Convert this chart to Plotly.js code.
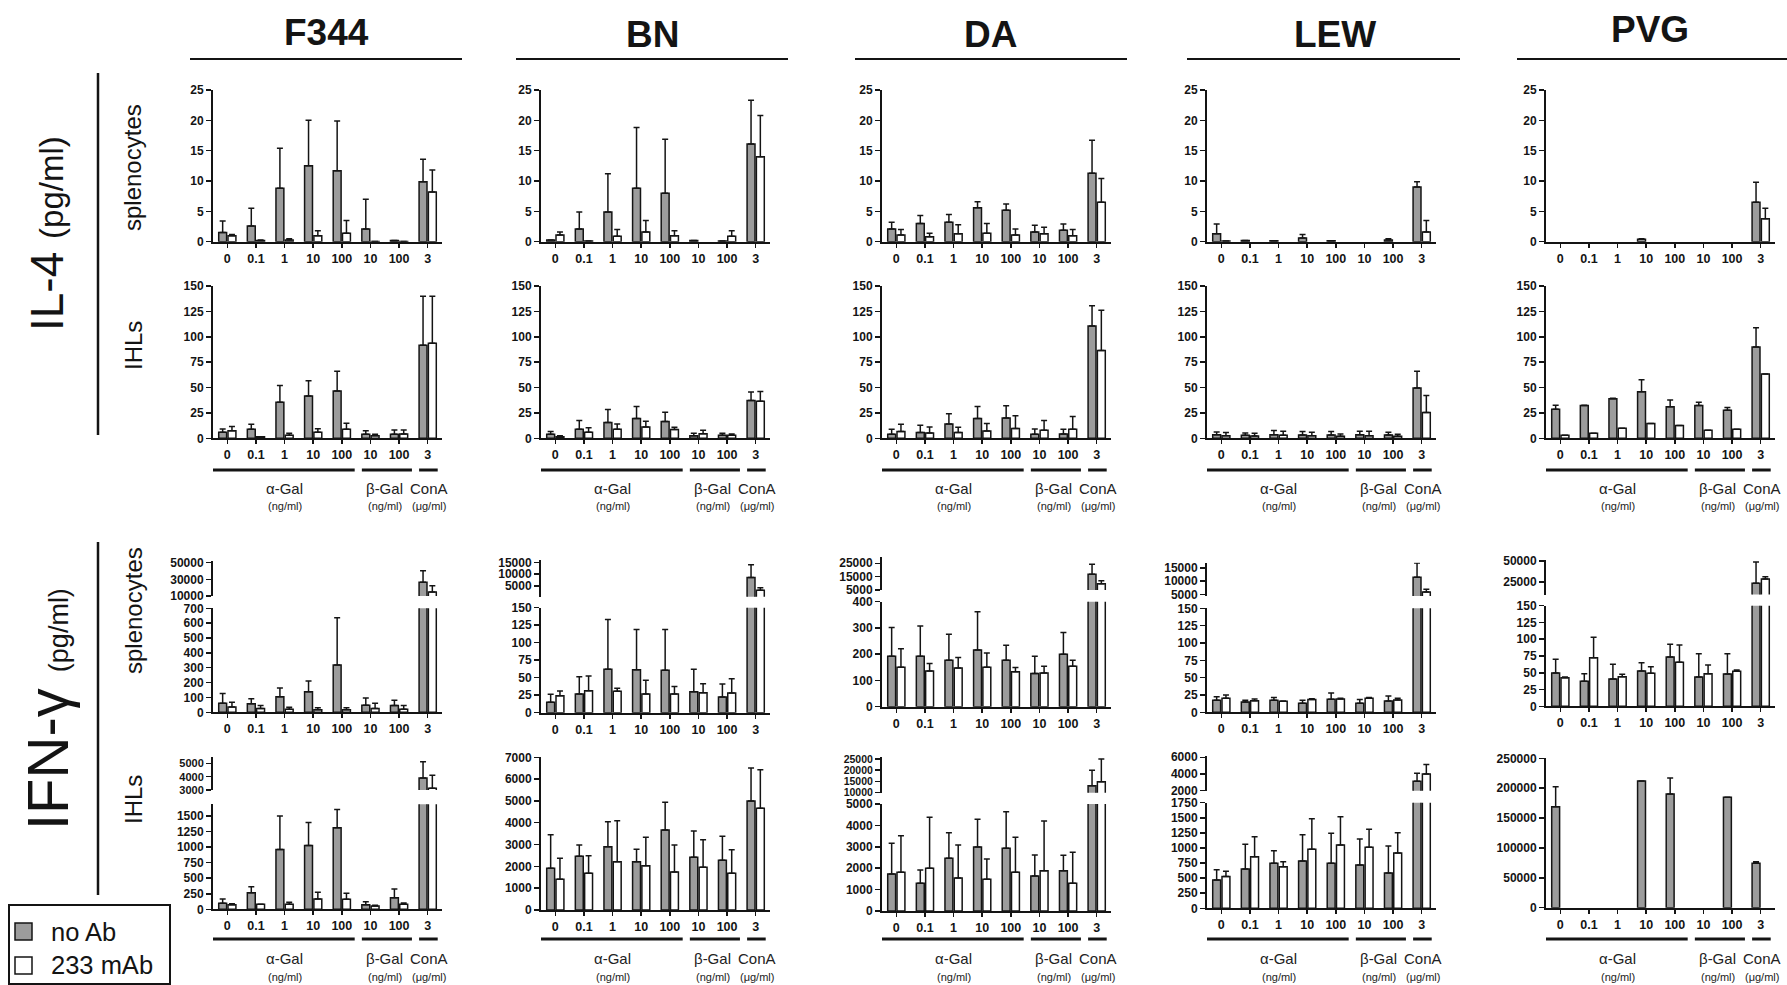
<!DOCTYPE html>
<html><head><meta charset="utf-8">
<script src="https://cdn.plot.ly/plotly-3.0.1.min.js"></script>
<style>html,body{margin:0;padding:0;background:#fff;}#chart{width:1787px;height:985px;}</style>
</head><body><div id="chart"></div>
<script>
// ---------------- DATA ----------------
const categories = ['a0','a0.1','a1','a10','a100','b10','b100','c3'];
const tickLabels = ['0','0.1','1','10','100','10','100','3'];
const strains = ['F344','BN','DA','LEW','PVG'];
const seriesNames = ['no Ab','233 mAb'];
const groupLabels = ['α-Gal','β-Gal','ConA'];
const groupUnits = ['(ng/ml)','(ng/ml)','(μg/ml)'];

// IL-4 splenocytes
const F344_IL4_spl_noAb = [1.5, 2.6, 8.8, 12.5, 11.7, 2.1, 0.2, 9.9];
const F344_IL4_spl_noAb_sd = [1.9, 2.9, 6.6, 7.5, 8.2, 4.9, 0, 3.7];
const F344_IL4_spl_mAb = [1.0, 0.2, 0.3, 1.0, 1.4, 0.05, 0.05, 8.2];
const F344_IL4_spl_mAb_sd = [0.2, 0.1, 0.2, 0.8, 2.1, 0, 0, 3.6];
const BN_IL4_spl_noAb = [0.3, 2.1, 4.9, 8.8, 8.0, 0.2, 0.1, 16.1];
const BN_IL4_spl_noAb_sd = [0, 2.8, 6.3, 10.0, 8.9, 0, 0, 7.2];
const BN_IL4_spl_mAb = [1.1, 0.1, 0.9, 1.6, 1.0, 0, 0.9, 14.0];
const BN_IL4_spl_mAb_sd = [0.5, 0, 1.1, 1.9, 0.8, 0, 0.9, 6.8];
const DA_IL4_spl_noAb = [2.1, 3.0, 3.2, 5.6, 5.2, 1.6, 1.9, 11.3];
const DA_IL4_spl_noAb_sd = [1.1, 1.3, 1.3, 1.0, 1.0, 1.1, 1.0, 5.4];
const DA_IL4_spl_mAb = [1.1, 0.8, 1.3, 1.4, 1.1, 1.3, 1.0, 6.5];
const DA_IL4_spl_mAb_sd = [0.9, 0.6, 1.5, 1.6, 1.0, 1.1, 1.0, 3.9];
const LEW_IL4_spl_noAb = [1.3, 0.2, 0.15, 0.6, 0.15, 0, 0.3, 9.0];
const LEW_IL4_spl_noAb_sd = [1.6, 0, 0, 0.6, 0, 0, 0.2, 0.9];
const LEW_IL4_spl_mAb = [0.1, 0, 0, 0, 0, 0, 0, 1.6];
const LEW_IL4_spl_mAb_sd = [0, 0, 0, 0, 0, 0, 0, 1.9];
const PVG_IL4_spl_noAb = [0, 0, 0, 0.4, 0, 0, 0, 6.5];
const PVG_IL4_spl_noAb_sd = [0, 0, 0, 0.1, 0, 0, 0, 3.3];
const PVG_IL4_spl_mAb = [0, 0, 0, 0, 0, 0, 0, 3.8];
const PVG_IL4_spl_mAb_sd = [0, 0, 0, 0, 0, 0, 0, 1.7];

// IL-4 IHLs
const F344_IL4_ihl_noAb = [5.9, 8.9, 35.4, 41.7, 46.6, 3.9, 3.9, 91.6];
const F344_IL4_ihl_noAb_sd = [3.3, 4.9, 16.6, 15.1, 19.4, 3.6, 4.3, 48.4];
const F344_IL4_ihl_mAb = [7.5, 1.6, 3.0, 5.9, 8.9, 2.6, 4.3, 93.6];
const F344_IL4_ihl_mAb_sd = [4.0, 0, 1.9, 3.6, 5.9, 1.3, 3.9, 46.4];
const BN_IL4_ihl_noAb = [4.0, 8.9, 15.5, 19.5, 16.5, 2.6, 3.0, 37.3];
const BN_IL4_ihl_noAb_sd = [2.6, 8.6, 12.9, 11.8, 9.2, 2.3, 1.9, 8.2];
const BN_IL4_ihl_mAb = [1.6, 5.9, 8.9, 11.2, 8.6, 4.6, 3.0, 36.6];
const BN_IL4_ihl_mAb_sd = [1.0, 4.6, 5.3, 5.6, 2.3, 3.3, 1.3, 9.6];
const DA_IL4_ihl_noAb = [4.0, 5.6, 14.2, 19.5, 20.1, 4.0, 4.3, 110.5];
const DA_IL4_ihl_noAb_sd = [4.9, 7.3, 9.9, 11.8, 11.9, 5.2, 4.6, 20.1];
const DA_IL4_ihl_mAb = [6.6, 5.3, 5.6, 7.3, 9.6, 7.9, 8.9, 86.4];
const DA_IL4_ihl_mAb_sd = [7.2, 5.9, 5.3, 7.2, 12.5, 9.6, 12.5, 39.6];
const LEW_IL4_ihl_noAb = [3.6, 3.0, 3.6, 3.3, 3.3, 3.6, 3.3, 49.5];
const LEW_IL4_ihl_noAb_sd = [2.7, 2.3, 4.0, 3.3, 3.3, 3.3, 2.6, 16.5];
const LEW_IL4_ihl_mAb = [2.6, 2.3, 3.0, 2.6, 2.0, 2.6, 2.0, 25.4];
const LEW_IL4_ihl_mAb_sd = [3.0, 2.6, 3.9, 3.3, 2.3, 4.3, 2.0, 16.8];
const PVG_IL4_ihl_noAb = [28.7, 32.3, 38.9, 45.8, 31.0, 32.3, 27.7, 90.0];
const PVG_IL4_ihl_noAb_sd = [3.9, 0.2, 0.6, 11.9, 6.6, 3.3, 2.6, 18.8];
const PVG_IL4_ihl_mAb = [3.0, 4.9, 9.9, 14.5, 12.5, 7.9, 8.9, 63.3];
const PVG_IL4_ihl_mAb_sd = [0, 0, 0, 0, 0, 0, 0, 0];

// IFN-γ splenocytes
const F344_IFN_spl_noAb = [61, 58, 105, 139, 319, 47, 45, 26400];
const F344_IFN_spl_noAb_sd = [65, 34, 59, 72, 318, 49, 36, 14000];
const F344_IFN_spl_mAb = [36, 25, 20, 18, 18, 25, 20, 14800];
const F344_IFN_spl_mAb_sd = [31, 20, 14, 13, 13, 36, 25, 7600];
const BN_IFN_spl_noAb = [14.8, 26.7, 61.9, 61.4, 60.5, 30, 22.4, 8600];
const BN_IFN_spl_noAb_sd = [11.4, 24.7, 71.1, 57.6, 58.5, 31.9, 18.6, 5400];
const BN_IFN_spl_mAb = [24.3, 31.4, 30.5, 26.7, 26.7, 28.6, 28.1, 3200];
const BN_IFN_spl_mAb_sd = [6.7, 21, 4.3, 19.5, 10.9, 12.8, 20.5, 1100];
const DA_IFN_spl_noAb = [192, 192, 177, 216, 177, 126, 200, 16750];
const DA_IFN_spl_noAb_sd = [110, 115, 99, 146, 57, 66, 83, 7500];
const DA_IFN_spl_mAb = [150, 136, 147, 150, 133, 128, 154, 9750];
const DA_IFN_spl_mAb_sd = [71, 29, 40, 55, 16, 26, 23, 2250];
const LEW_IFN_spl_noAb = [17.3, 14.9, 17.3, 13, 18.8, 13, 16.3, 11400];
const LEW_IFN_spl_noAb_sd = [5.3, 2.4, 3.9, 4.3, 9.1, 5.3, 7.3, 5350];
const LEW_IFN_spl_mAb = [20.2, 16.8, 15.9, 18.3, 19.2, 20.2, 17.8, 5900];
const LEW_IFN_spl_mAb_sd = [4.8, 2.4, 0.4, 1.4, 1.0, 1.0, 2.4, 1000];
const PVG_IFN_spl_noAb = [49.7, 37.3, 40.7, 52.7, 73.5, 43.7, 48.2, 23400];
const PVG_IFN_spl_noAb_sd = [20.3, 11.4, 21.9, 12.3, 18.9, 34.8, 30.3, 25400];
const PVG_IFN_spl_mAb = [42.7, 72.5, 44.2, 49.2, 65.6, 48.7, 52.2, 28600];
const PVG_IFN_spl_mAb_sd = [1.0, 30.3, 3.5, 9.9, 25.8, 12.9, 1.9, 2700];

// IFN-γ IHLs
const F344_IFN_ihl_noAb = [96, 268, 964, 1028, 1312, 75, 187, 3900];
const F344_IFN_ihl_noAb_sd = [70, 96, 536, 370, 295, 48, 140, 1225];
const F344_IFN_ihl_mAb = [75, 80, 80, 166, 161, 54, 80, 3125];
const F344_IFN_ihl_mAb_sd = [16, 0, 32, 107, 96, 10, 22, 975];
const BN_IFN_ihl_noAb = [1910, 2461, 2904, 2216, 3668, 2415, 2277, 4998];
const BN_IFN_ihl_noAb_sd = [1544, 519, 1146, 566, 1269, 1207, 1101, 1513];
const BN_IFN_ihl_mAb = [1406, 1681, 2216, 2033, 1742, 1956, 1681, 4661];
const BN_IFN_ihl_mAb_sd = [963, 810, 1880, 1299, 1238, 1269, 1085, 1773];
const DA_IFN_ihl_noAb = [1729, 1293, 2461, 2991, 2928, 1636, 1885, 13100];
const DA_IFN_ihl_noAb_sd = [1433, 623, 1199, 1292, 1714, 981, 716, 6900];
const DA_IFN_ihl_mAb = [1807, 1994, 1542, 1480, 1807, 1885, 1293, 14900];
const DA_IFN_ihl_mAb_sd = [1713, 2383, 1542, 950, 1635, 2321, 1448, 10100];
const LEW_IFN_ihl_noAb = [469, 652, 746, 784, 746, 718, 585, 3120];
const LEW_IFN_ihl_noAb_sd = [171, 408, 209, 436, 496, 430, 448, 960];
const LEW_IFN_ihl_mAb = [525, 856, 690, 977, 1049, 1010, 916, 4000];
const LEW_IFN_ihl_mAb_sd = [88, 331, 83, 508, 469, 298, 337, 1120];
const PVG_IFN_ihl_noAb = [169000, 0, 0, 212000, 190300, 0, 184700, 74200];
const PVG_IFN_ihl_noAb_sd = [33600, 0, 0, 0, 26700, 0, 0, 2800];
const PVG_IFN_ihl_mAb = [0, 0, 0, 0, 0, 0, 0, 0];
const PVG_IFN_ihl_mAb_sd = [0, 0, 0, 0, 0, 0, 0, 0];

// y-axis tick values
const ticksIL4spl = [0, 5, 10, 15, 20, 25];
const ticksIL4ihl = [0, 25, 50, 75, 100, 125, 150];
const ticks25to150 = [0, 25, 50, 75, 100, 125, 150];

// ---------------- GEOMETRY / STYLE ----------------
const W = 1787, H = 985;
const px = x => x / W, py = y => 1 - y / H;
const colX = [213, 541, 882, 1207, 1546];
const panelW = 229;
const GRAY = '#9c9c9c', INK = '#141414';
const FONT = 'Liberation Sans, Arial, sans-serif';

const panelsDef = [];
strains.forEach((s, c) => {
  panelsDef.push({col: c, row: 'IL4spl', d: [eval(s+'_IL4_spl_noAb'), eval(s+'_IL4_spl_noAb_sd'), eval(s+'_IL4_spl_mAb'), eval(s+'_IL4_spl_mAb_sd')],
    segs: [{top: 90, bot: 241.7, range: [0, 25], ticks: ticksIL4spl}]});
  panelsDef.push({col: c, row: 'IL4ihl', d: [eval(s+'_IL4_ihl_noAb'), eval(s+'_IL4_ihl_noAb_sd'), eval(s+'_IL4_ihl_mAb'), eval(s+'_IL4_ihl_mAb_sd')],
    segs: [{top: 286, bot: 438.3, range: [0, 150], ticks: ticksIL4ihl}]});
});
const ifnSplSegs = [
  [{top: 608.3, bot: 712.3, range: [0, 700], ticks: [0,100,200,300,400,500,600,700]}, {top: 560.7, bot: 596, range: [10000, 52400], ticks: [10000,30000,50000]}],
  [{top: 607.7, bot: 712.7, range: [0, 150], ticks: ticks25to150}, {top: 560, bot: 596.7, range: [500, 16000], ticks: [5000,10000,15000]}],
  [{top: 601.7, bot: 706.7, range: [0, 400], ticks: [0,100,200,300,400]}, {top: 557, bot: 590, range: [5000, 29700], ticks: [5000,15000,25000]}],
  [{top: 608.3, bot: 712.3, range: [0, 150], ticks: ticks25to150}, {top: 562.7, bot: 596, range: [4400, 16900], ticks: [5000,10000,15000]}],
  [{top: 605.7, bot: 706.3, range: [0, 150], ticks: ticks25to150}, {top: 560, bot: 594.6, range: [10000, 51200], ticks: [25000,50000]}]
];
const ifnIhlSegs = [
  [{top: 804.3, bot: 909.3, range: [0, 1690], ticks: [0,250,500,750,1000,1250,1500]}, {top: 757.3, bot: 790, range: [3000, 5450], ticks: [3000,4000,5000], fs: 11}],
  [{top: 757.3, bot: 910, range: [0, 7000], ticks: [0,1000,2000,3000,4000,5000,6000,7000]}],
  [{top: 804, bot: 911, range: [0, 5000], ticks: [0,1000,2000,3000,4000,5000]}, {top: 756.7, bot: 792.7, range: [10000, 26000], ticks: [10000,15000,20000,25000], fs: 10.5}],
  [{top: 802.7, bot: 908.3, range: [0, 1750], ticks: [0,250,500,750,1000,1250,1500,1750]}, {top: 756, bot: 790.7, range: [2000, 6150], ticks: [2000,4000,6000]}],
  [{top: 758.3, bot: 907.7, range: [0, 250000], ticks: [0,50000,100000,150000,200000,250000]}]
];
strains.forEach((s, c) => {
  panelsDef.push({col: c, row: 'IFNspl', d: [eval(s+'_IFN_spl_noAb'), eval(s+'_IFN_spl_noAb_sd'), eval(s+'_IFN_spl_mAb'), eval(s+'_IFN_spl_mAb_sd')], segs: ifnSplSegs[c]});
  panelsDef.push({col: c, row: 'IFNihl', d: [eval(s+'_IFN_ihl_noAb'), eval(s+'_IFN_ihl_noAb_sd'), eval(s+'_IFN_ihl_mAb'), eval(s+'_IFN_ihl_mAb_sd')], segs: ifnIhlSegs[c]});
});

const layout = {
  width: W, height: H, margin: {l: 0, r: 0, t: 0, b: 0}, showlegend: false,
  barmode: 'group', bargap: 0.35, bargroupgap: 0.15,
  paper_bgcolor: '#fff', plot_bgcolor: 'rgba(0,0,0,0)',
  font: {family: FONT, color: INK},
  shapes: [], annotations: []
};
const traces = [];
let xN = 0, yN = 0;
const axId = (p, n) => n === 1 ? p : p + n;
const rowX = {};

panelsDef.forEach(P => {
  xN++;
  const xid = axId('x', xN);
  const yIds = P.segs.map(() => { yN++; return yN; });
  layout[axId('xaxis', xN)] = {
    domain: [px(colX[P.col]), px(colX[P.col] + panelW)], anchor: axId('y', yIds[0]),
    type: 'category', categoryorder: 'array', categoryarray: categories,
    tickvals: categories, ticktext: tickLabels, range: [-0.5, 7.5],
    showline: true, linewidth: 2, linecolor: INK, ticks: 'outside', ticklen: 4, tickwidth: 1.5, tickcolor: INK,
    showgrid: false, zeroline: false, tickfont: {family: FONT, size: 12.5, weight: 700, color: INK}, fixedrange: true
  };
  rowX[P.row + P.col] = xid;
  P.segs.forEach((seg, i) => {
    const n = yIds[i];
    const yid = axId('y', n);
    const isUpper = i > 0;
    layout[axId('yaxis', n)] = {
      domain: [py(seg.bot), py(seg.top)], anchor: xid, range: seg.range,
      tickvals: seg.ticks, tickformat: 'd',
      showline: true, linewidth: 2, linecolor: INK, ticks: 'outside', ticklen: 5, tickwidth: 1.5, tickcolor: INK,
      showgrid: false, zeroline: false, fixedrange: true,
      tickfont: {family: FONT, size: seg.fs || 12, weight: 700, color: INK}
    };
    // a bar is drawn in a segment only if it reaches into it; empty (0) bars are left out
    const keep = v => (v === 0 || (isUpper && v <= seg.range[0])) ? null : v;
    const zeros = categories.map(() => 0);
    traces.push({type: 'bar', name: seriesNames[0], x: categories, y: P.d[0].map(keep), xaxis: xid, yaxis: yid, offsetgroup: 'a',
      marker: {color: GRAY, line: {color: INK, width: 1.5}}, hoverinfo: 'skip',
      error_y: {type: 'data', symmetric: false, array: P.d[1], arrayminus: zeros, color: INK, thickness: 1.5, width: 3}});
    traces.push({type: 'bar', name: seriesNames[1], x: categories, y: P.d[2].map(keep), xaxis: xid, yaxis: yid, offsetgroup: 'b',
      marker: {color: '#ffffff', line: {color: INK, width: 1.5}}, hoverinfo: 'skip',
      error_y: {type: 'data', symmetric: false, array: P.d[3], arrayminus: zeros, color: INK, thickness: 1.5, width: 3}});
  });
});

const A = layout.annotations, S = layout.shapes;
function txt(text, x, y, size, opts) {
  A.push(Object.assign({text: text, x: px(x), y: py(y), xref: 'paper', yref: 'paper', showarrow: false,
    xanchor: 'center', yanchor: 'middle', font: {family: FONT, size: size, color: INK}}, opts || {}));
}
function line(x0, y0, x1, y1, w) {
  S.push({type: 'line', xref: 'paper', yref: 'paper', x0: px(x0), x1: px(x1), y0: py(y0), y1: py(y1), line: {color: INK, width: w}});
}

// column titles + header lines
const titleX = [326, 652, 991, 1335, 1650];
const titleY = [33, 34, 34, 34, 30];
const headerX = [[190, 462], [516, 788], [855, 1127], [1187, 1460], [1517, 1787]];
strains.forEach((s, c) => {
  txt(s, titleX[c], titleY[c], 37, {font: {family: FONT, size: 37, weight: 700, color: INK}});
  line(headerX[c][0], 59, headerX[c][1], 59, 2);
});

// row labels
txt('IL-4 <span style="font-size:33px">(pg/ml)</span>', 47, 234, 46, {textangle: -90});
txt('IFN-γ <span style="font-size:27px">(pg/ml)</span>', 47, 709, 58, {textangle: -90});
txt('splenocytes', 133, 168, 24, {textangle: -90});
txt('IHLs', 133, 346, 24, {textangle: -90});
txt('splenocytes', 133, 611, 24, {textangle: -90});
txt('IHLs', 133, 800, 24, {textangle: -90});
line(98, 73, 98, 435, 2.5);
line(98, 542, 98, 895, 2.5);

// treatment group bars + labels below the IHL panels
const groupSpan = [[-0.6, 4.45], [4.7, 6.45], [6.7, 7.35]];
const groupMid = [2, 5.5, 7.05];
[['IL4ihl', 470, 488, 506], ['IFNihl', 939, 958, 976.5]].forEach(([row, ly, ty, uy]) => {
  strains.forEach((s, c) => {
    const xid = rowX[row + c];
    groupLabels.forEach((g, k) => {
      S.push({type: 'line', xref: xid, yref: 'paper', x0: groupSpan[k][0], x1: groupSpan[k][1], y0: py(ly), y1: py(ly), line: {color: INK, width: 3}});
      A.push({text: g, xref: xid, yref: 'paper', x: groupMid[k], y: py(ty), showarrow: false, xanchor: 'center', yanchor: 'middle', font: {family: FONT, size: 15, color: '#222'}});
      A.push({text: groupUnits[k], xref: xid, yref: 'paper', x: groupMid[k], y: py(uy), showarrow: false, xanchor: 'center', yanchor: 'middle', font: {family: FONT, size: 11, color: '#222'}});
    });
  });
});

// legend
S.push({type: 'rect', xref: 'paper', yref: 'paper', x0: px(9), x1: px(170), y0: py(984), y1: py(905), line: {color: INK, width: 2}, fillcolor: 'rgba(0,0,0,0)'});
S.push({type: 'rect', xref: 'paper', yref: 'paper', x0: px(15), x1: px(32), y0: py(940), y1: py(923), line: {color: INK, width: 1.5}, fillcolor: GRAY});
S.push({type: 'rect', xref: 'paper', yref: 'paper', x0: px(15), x1: px(32), y0: py(974), y1: py(957), line: {color: INK, width: 1.5}, fillcolor: '#fff'});
txt(seriesNames[0], 49, 931.5, 25.5, {xanchor: 'left'});
txt(seriesNames[1], 49, 965, 25.5, {xanchor: 'left'});

Plotly.newPlot('chart', traces, layout, {displayModeBar: false, staticPlot: true});
</script></body></html>
